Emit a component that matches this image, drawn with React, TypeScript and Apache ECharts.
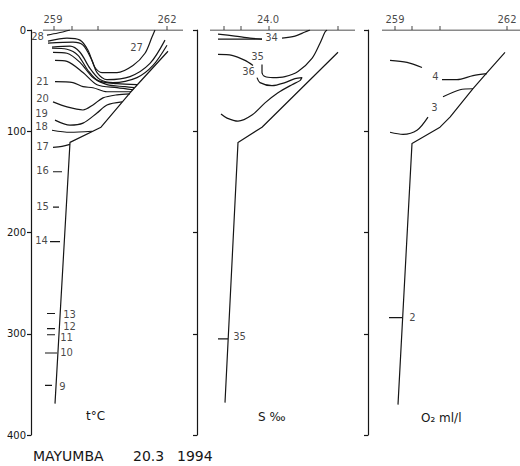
import React, { useEffect, useRef } from "react";
import * as echarts from "echarts";

// ---------- data (x = distance along section, km from panel edge; y = depth, m) ----------
const depthTicks = [0, 100, 200, 300, 400];

// Panel 1 : temperature
const tStationTicks = [23, 41, 67, 136];
const tStationLabels: [number, string][] = [[22, "259"], [136, "262"]];
const tTopLine = [[12, 0], [152, 0]];
const T28 = [[16, 5], [27, 3], [39, 0]];
const T27 = [[17, 11], [36, 8], [49, 10], [57, 20], [64, 37], [71, 42], [86, 42], [102, 35], [114, 23], [121, 7], [124, 0]];
const T26 = [[17, 13], [42, 12], [52, 15], [61, 30], [66, 42], [76, 49], [99, 46], [119, 33], [134, 10]];
const T25 = [[21, 17], [39, 16], [49, 22], [59, 38], [69, 49], [82, 52], [106, 47], [122, 35], [136, 15]];
const T24 = [[21, 18], [36, 19], [47, 25], [57, 40], [67, 50], [86, 53], [106, 54]];
const T23 = [[22, 22], [36, 23], [49, 32], [62, 47], [76, 54], [94, 56], [103, 57]];
const T22 = [[24, 30], [36, 31], [52, 42], [66, 54], [86, 57], [102, 59]];
const T21 = [[24, 51], [42, 52], [52, 56], [62, 57], [76, 61], [100, 61]];
const T20 = [[22, 71], [36, 76], [52, 79], [62, 74], [72, 67], [86, 64], [99, 63]];
const T19 = [[24, 89], [39, 94], [52, 92], [66, 82], [76, 74], [91, 71]];
const T18 = [[21, 99], [39, 101], [61, 100]];
const T17 = [[22, 116], [31, 115], [39, 113]];
const tBottom = [[137, 21], [99, 62], [70, 96], [39, 111], [24, 369]];
const tMarks: [number, number, number][] = [[22, 31, 140], [22, 28, 175], [19, 29, 209], [16, 24, 280], [16, 24, 295], [16, 24, 301], [14, 26, 319], [14, 21, 351]];
const tLabels: [number, number, string][] = [
  [7, 7, "28"], [106, 18, "27"], [12, 51, "21"], [12, 68, "20"], [11, 83, "19"], [11, 96, "18"],
  [12, 116, "17"], [12, 139, "16"], [12, 175, "15"], [11, 208, "14"], [39, 281, "13"],
  [39, 293, "12"], [36, 304, "11"], [36, 319, "10"], [32, 353, "9"],
];

// Panel 2 : salinity
const sStationTicks = [27, 44, 72, 141];
const sStationLabels: [number, string][] = [[71, "24.0"]];
const sTopLine = [[13, 0], [158, 0]];
const S34a = [[21, 4], [38, 6], [53, 8], [65, 9]];
const S34b = [[21, 9], [43, 9], [65, 9]];
const S34c = [[85, 8], [98, 6], [108, 2], [113, 0]];
const S35a = [[21, 24], [35, 25], [48, 30], [56, 35]];
const S35b = [[65, 34], [65, 42], [68, 46], [76, 47], [88, 46], [101, 41], [115, 28], [123, 13], [128, 2], [130, 0]];
const S36 = [[60, 47], [63, 52], [75, 55], [88, 52], [98, 48], [105, 47], [103, 50], [95, 54], [81, 62], [68, 72], [55, 84], [41, 90], [30, 87], [24, 83]];
const sBottom = [[141, 22], [65, 96], [41, 111], [28, 368]];
const sMarks: [number, number, number][] = [[21, 31, 305]];
const sLabels: [number, number, string][] = [[75, 8, "34"], [61, 27, "35"], [52, 41, "36"], [43, 303, "35"]];

// Panel 3 : oxygen
const oStationTicks = [27, 44, 72, 139];
const oStationLabels: [number, string][] = [[27, "259"], [139, "262"]];
const oTopLine = [[14, 0], [152, 0]];
const O4a = [[22, 30], [39, 32], [54, 37]];
const O4b = [[74, 49], [89, 49], [105, 45], [119, 43]];
const O3a = [[22, 101], [35, 103], [49, 99], [60, 86]];
const O3b = [[75, 66], [92, 59], [105, 58]];
const oBottom = [[137, 22], [119, 42], [105, 58], [82, 86], [72, 96], [44, 112], [30, 370]];
const oMarks: [number, number, number][] = [[21, 34, 284]];
const oLabels: [number, number, string][] = [[68, 46, "4"], [67, 77, "3"], [45, 284, "2"]];

// ---------- layout ----------
const INK = "#161616";
const FONT = "DejaVu Sans";
const panels = [
  { left: 31, width: 165 },
  { left: 197, width: 168 },
  { left: 368, width: 152 },
];

function contour(g: number, data: number[][], smooth = true) {
  return {
    type: "line", xAxisIndex: g, yAxisIndex: g, data, symbol: "none",
    smooth: smooth ? 0.3 : false, silent: true,
    lineStyle: { color: INK, width: 1.2 }, z: 3,
  };
}
function labelSeries(g: number, data: [number, number, string][], size = 10) {
  return {
    type: "scatter", xAxisIndex: g, yAxisIndex: g, silent: true,
    data: data.map((d) => [d[0], d[1], d[2]]), symbolSize: 1,
    itemStyle: { color: "rgba(0,0,0,0)" },
    label: {
      show: true, position: [0, 0], align: "center", verticalAlign: "middle",
      formatter: (p: any) => p.value[2], color: INK, fontSize: size, fontFamily: FONT,
      textBorderWidth: 0,
    },
    z: 5,
  };
}
function stationSeries(g: number, ticks: number[], labels: [number, string][]) {
  return [
    {
      type: "scatter", xAxisIndex: g, yAxisIndex: g, silent: true,
      data: ticks.map((x) => [x, 0]), symbol: "rect", symbolSize: [1, 4], symbolOffset: [0, -2],
      itemStyle: { color: INK }, z: 4,
    },
    {
      type: "scatter", xAxisIndex: g, yAxisIndex: g, silent: true,
      data: labels.map((l) => [l[0], 0, l[1]]), symbolSize: 1, itemStyle: { color: "rgba(0,0,0,0)" },
      label: { show: true, position: "top", distance: 5, formatter: (p: any) => p.value[2], color: INK, fontSize: 10, fontFamily: FONT, textBorderWidth: 0 },
      z: 4,
    },
  ];
}
function marks(g: number, m: [number, number, number][]) {
  return m.map((d) => contour(g, [[d[0], d[2]], [d[1], d[2]]], false));
}

export default function App() {
  const ref = useRef<HTMLDivElement>(null);
  useEffect(() => {
    if (!ref.current) return;
    const chart = echarts.init(ref.current, undefined, { renderer: "svg" });
    const series: any[] = [
      contour(0, tTopLine, false), ...stationSeries(0, tStationTicks, tStationLabels),
      ...[T28, T27, T26, T25, T24, T23, T22, T21, T20, T19, T18, T17].map((d) => contour(0, d)),
      contour(0, tBottom, false), ...marks(0, tMarks), labelSeries(0, tLabels),

      contour(1, sTopLine, false), ...stationSeries(1, sStationTicks, sStationLabels),
      ...[S34a, S34b, S34c, S35a, S35b, S36].map((d) => contour(1, d)),
      contour(1, sBottom, false), ...marks(1, sMarks), labelSeries(1, sLabels),

      contour(2, oTopLine, false), ...stationSeries(2, oStationTicks, oStationLabels),
      ...[O4a, O4b, O3a, O3b].map((d) => contour(2, d)),
      contour(2, oBottom, false), ...marks(2, oMarks), labelSeries(2, oLabels),
    ];
    chart.setOption({
      animation: false,
      backgroundColor: "#ffffff",
      grid: panels.map((p) => ({ left: p.left, top: 30, width: p.width, height: 405, outerBoundsMode: "none", containLabel: false })),
      xAxis: panels.map((p, i) => ({ type: "value", gridIndex: i, min: 0, max: p.width, show: false })),
      yAxis: panels.map((p, i) => ({
        type: "value", gridIndex: i, inverse: true, min: 0, max: 400, interval: 100,
        axisLine: { show: true, lineStyle: { color: INK, width: 1.2 } },
        axisTick: { show: true, inside: false, length: 4, lineStyle: { color: INK, width: 1.2 } },
        axisLabel: { show: i === 0, color: INK, fontSize: 10, fontFamily: FONT, margin: 5, customValues: depthTicks },
        splitLine: { show: false },
      })),
      graphic: [
        { type: "text", left: 86, top: 410, style: { text: "t°C", fontSize: 12, fontFamily: FONT, fill: INK } },
        { type: "text", left: 258, top: 411, style: { text: "S ‰", fontSize: 12, fontFamily: FONT, fill: INK } },
        { type: "text", left: 421, top: 412, style: { text: "O₂ ml/l", fontSize: 12, fontFamily: FONT, fill: INK } },
        { type: "text", left: 33, top: 449, style: { text: "MAYUMBA", fontSize: 14, fontFamily: FONT, fill: INK } },
        { type: "text", left: 133, top: 449, style: { text: "20.3", fontSize: 14, fontFamily: FONT, fill: INK } },
        { type: "text", left: 177, top: 449, style: { text: "1994", fontSize: 14, fontFamily: FONT, fill: INK } },
      ],
      series,
    });
    return () => chart.dispose();
  }, []);
  return <div ref={ref} style={{ position: "fixed", left: 0, top: 0, width: 520, height: 466 }} />;
}
